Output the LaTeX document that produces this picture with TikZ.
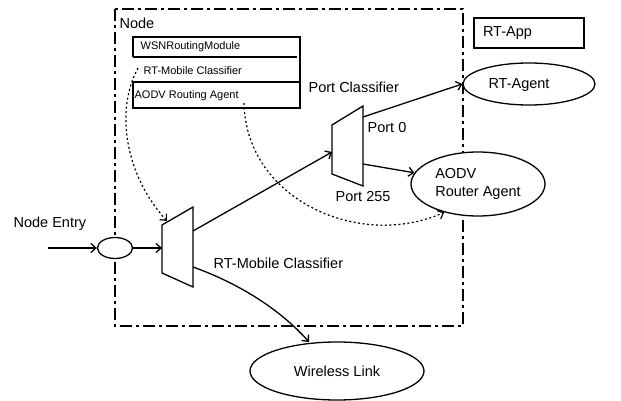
\documentclass[tikz,border=0pt]{standalone}
\usepackage{fontspec}
\setmainfont{Liberation Sans}
\usetikzlibrary{shapes,arrows.meta,positioning}

\begin{document}
\begin{tikzpicture}[x=1pt,y=-1pt,line width=1.3pt,
		>={Straight Barb[length=5pt,width=9pt]},
		bigtxt/.style={font=\fontsize{14.5}{18}\selectfont,inner sep=0pt},
		smalltxt/.style={font=\fontsize{11}{13}\selectfont,inner sep=0pt},
		oval/.style={draw,ellipse,fill=white,inner sep=0pt,font=\fontsize{14.5}{18}\selectfont},
		dashdot/.style={line width=1.2pt,dash pattern=on 12pt off 4pt on 3pt off 4pt},
		dots/.style={line width=1.2pt,dash pattern=on 2pt off 2.5pt}]
	\useasboundingbox (0,0) rectangle (621,401);
	
	% node boundary
	\draw[dashdot] (115,9) rectangle (463,326);
	\node[bigtxt,anchor=west] (nodelbl) at (119,23) {Node};
	
	% protocol stack
	\draw (133,57) -- (133,37) -- (300,37) -- (300,108) -- (133,108) -- (133,82);
	\draw (133,57) -- (297,57);
	\draw (133,82) -- (300,82);
	\node[smalltxt,anchor=west] (stackwsn) at (140,47) {WSNRoutingModule};
	\node[smalltxt,anchor=west] (stackmc) at (143,71) {RT-Mobile Classifier};
	\node[smalltxt,anchor=west] (stackaodv) at (134,96) {AODV Routing Agent};
	\coordinate (mcsrc) at (138,68);
	\coordinate (aodvsrc) at (244,103);
	
	% classifiers
	\draw (162,225) -- (193,207) -- (193,287) -- (162,273) -- cycle;
	\coordinate (mcin) at (162,248);
	\coordinate (mcup) at (193,231);
	\coordinate (mclo) at (193,267);
	\coordinate (mctop) at (167,221);
	\node[bigtxt,anchor=west] (mclbl) at (213,263) {RT-Mobile Classifier};
	
	\draw (332,125) -- (363,106) -- (363,186) -- (332,174) -- cycle;
	\coordinate (pcin) at (332,152);
	\coordinate (pcup) at (363,117);
	\coordinate (pclo) at (363,164);
	\node[bigtxt,anchor=west] (pclbl) at (308,87) {Port Classifier};
	\node[bigtxt,anchor=west] (port0) at (367,128) {Port 0};
	\node[bigtxt,anchor=west] (port255) at (335,197) {Port 255};
	
	% agents and links
	\node[oval,minimum width=35pt,minimum height=21pt] (entry) at (115,248) {};
	\coordinate (entrysrc) at (48,248);
	\node[bigtxt,anchor=west] (entrylbl) at (13,224) {Node Entry};
	
	\node[draw,minimum width=110pt,minimum height=30pt,text width=92pt,align=left,font=\fontsize{14.5}{18}\selectfont] (app) at (529,33) {RT-App};
	\node[oval,minimum width=132pt,minimum height=42pt] (agent) at (529,84) {};
	\node[bigtxt] (agentlbl) at (519,85) {RT-Agent};
	\node[oval,minimum width=134pt,minimum height=64pt,align=left] (aodv) at (478,184) {AODV\\Router Agent};
	\node[oval,minimum width=174pt,minimum height=58pt] (wireless) at (337,371) {Wireless Link};
	\coordinate (wltop) at (309,342);
	
	\path [->]
		(entrysrc) edge (entry.west)
		(entry.east) edge (mcin)
		(mcup) edge (pcin)
		(pcup) edge (agent.west)
		(pclo) edge (aodv.170);
	\draw[->] (mclo) .. controls (235,282) and (278,307) .. (wltop);
	
	\draw[dots,->] (mcsrc) .. controls (115,110) and (125,175) .. (mctop);
	\draw[dots,->] (aodvsrc) .. controls (246,200) and (360,250) .. (aodv.220);
\end{tikzpicture}
\end{document}
